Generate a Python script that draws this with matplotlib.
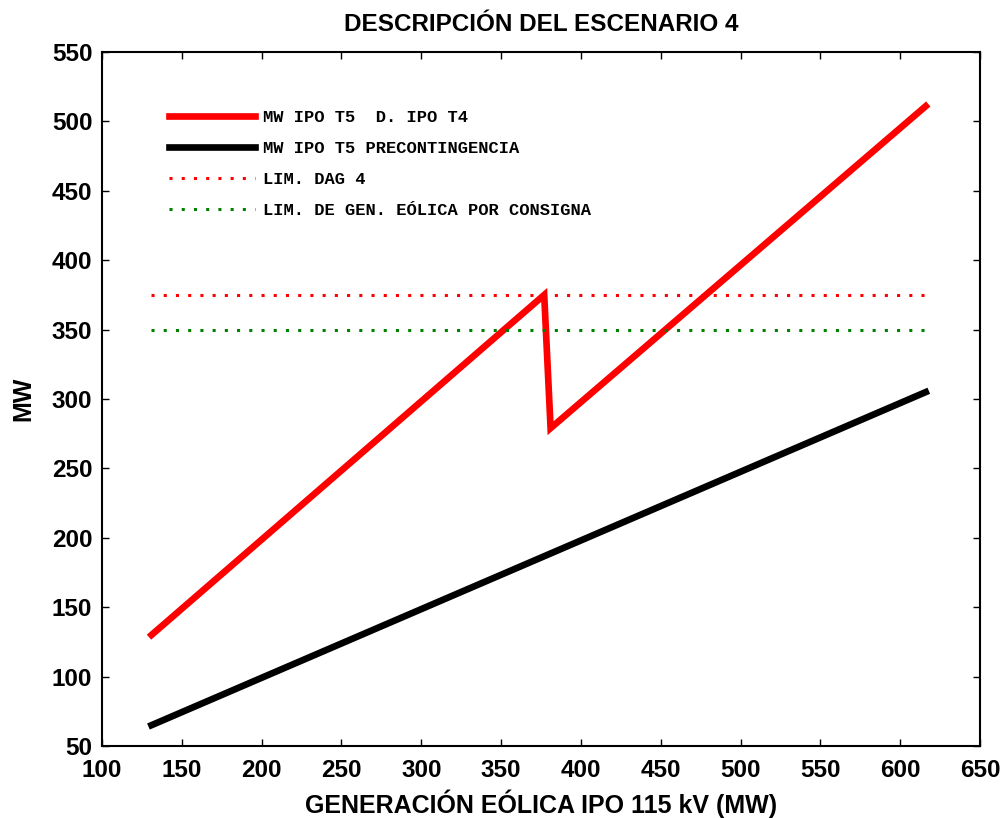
import matplotlib
matplotlib.use("Agg")
import matplotlib.pyplot as plt

# Wind generation at IPO 115 kV (MW)
gen_t4_trip = [131, 377, 381, 616]
mw_t5_trip = [130, 375, 279, 511]

gen_pre = [131, 616]
mw_t5_pre = [65, 305]

lim_range = [131, 616]
lim_dag4 = 375
lim_consigna = 350

labels = [
    "MW IPO T5  D. IPO T4",
    "MW IPO T5 PRECONTINGENCIA",
    "LIM. DAG 4",
    "LIM. DE GEN. EÓLICA POR CONSIGNA",
]

xticks = list(range(100, 651, 50))
yticks = list(range(50, 551, 50))

plt.rcParams["font.family"] = ["Liberation Sans", "DejaVu Sans"]

fig = plt.figure(figsize=(10.07, 8.18), dpi=100)
ax = fig.add_axes([0.1013, 0.088, 0.8719, 0.8484])

ax.plot(gen_t4_trip, mw_t5_trip, color="#ff0000", lw=4.8,
        solid_joinstyle="miter", label=labels[0])
ax.plot(gen_pre, mw_t5_pre, color="black", lw=4.8, label=labels[1])
ax.plot(lim_range, [lim_dag4] * 2, color="#ff0000", lw=2.2,
        linestyle=(0, (1, 3.0)), label=labels[2])
ax.plot(lim_range, [lim_consigna] * 2, color="#008000", lw=2.2,
        linestyle=(0, (1, 3.0)), label=labels[3])

ax.set_xlim(100, 650)
ax.set_ylim(50, 550)
ax.set_xticks(xticks)
ax.set_yticks(yticks)
ax.tick_params(direction="in", length=5, width=1, top=True, right=True,
               labelsize=17.5)
ax.tick_params(axis="x", pad=9)
ax.tick_params(axis="y", pad=7)
for lab in ax.get_xticklabels() + ax.get_yticklabels():
    lab.set_fontweight("bold")
for s in ax.spines.values():
    s.set_linewidth(1.5)

ax.set_title("DESCRIPCIÓN DEL ESCENARIO 4", fontsize=17.5, fontweight="bold",
             pad=15)
ax.set_xlabel("GENERACIÓN EÓLICA IPO 115 kV (MW)", fontsize=18,
              fontweight="bold", labelpad=6)
ax.set_ylabel("MW", fontsize=18, fontweight="bold", labelpad=12)

leg = ax.legend(loc="upper left", bbox_to_anchor=(0.068, 0.926), frameon=False,
                prop={"family": "Liberation Mono", "size": 12.3,
                      "weight": "bold"},
                handlelength=5.05, handletextpad=0.47, labelspacing=0.93,
                borderaxespad=0)

fig.savefig("out.png", dpi=100)
